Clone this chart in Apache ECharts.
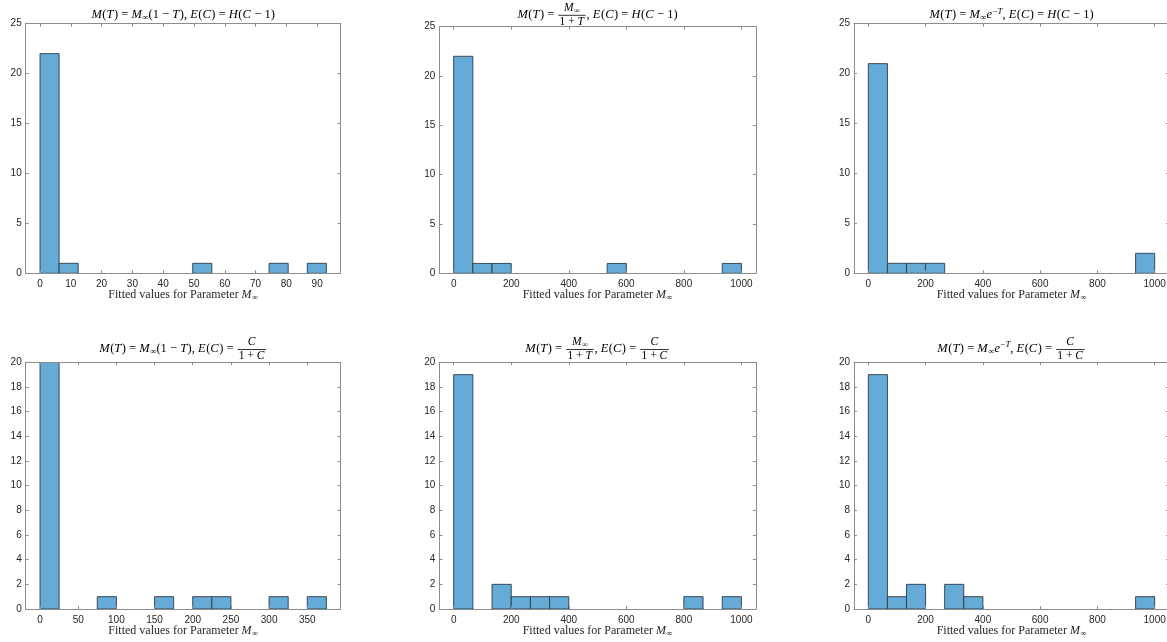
<!DOCTYPE html>
<html><head><meta charset="utf-8">
<script src="https://cdn.jsdelivr.net/npm/echarts@6/dist/echarts.min.js"></script>
<style>html,body{margin:0;padding:0;background:#fff}#c{width:1167px;height:642px}</style>
</head><body><div id="c"></div>
<script>
// ---------------- data ----------------
// histogram counts per bin (15 bins each)
const countsA = [22, 1, 0, 0, 0, 0, 0, 0, 1, 0, 0, 0, 1, 0, 1];
const countsB = [22, 1, 1, 0, 0, 0, 0, 0, 1, 0, 0, 0, 0, 0, 1];
const countsC = [21, 1, 1, 1, 0, 0, 0, 0, 0, 0, 0, 0, 0, 0, 2];
const countsD = [20, 0, 0, 1, 0, 0, 1, 0, 1, 1, 0, 0, 1, 0, 1];
const countsE = [19, 0, 2, 1, 1, 1, 0, 0, 0, 0, 0, 0, 1, 0, 1];
const countsF = [19, 1, 2, 0, 2, 1, 0, 0, 0, 0, 0, 0, 0, 0, 1];
// bin widths
const binWidthA = 6.2;
const binWidthB = 1000 / 15;
const binWidthC = 1000 / 15;
const binWidthD = 25;
const binWidthE = 1000 / 15;
const binWidthF = 1000 / 15;
// x tick labels
const xTicksA = [0, 10, 20, 30, 40, 50, 60, 70, 80, 90];
const xTicksK = [0, 200, 400, 600, 800, 1000];
const xTicksD = [0, 50, 100, 150, 200, 250, 300, 350];
// axis limits
const xLimA = [-4.65, 97.65];
const xLimK = [-50, 1050];
const xLimD = [-18.75, 393.75];
const yMaxTop = 25, yStepTop = 5;
const yMaxBot = 20, yStepBot = 2;

// ---------------- math text helpers ----------------
function m(s) { // math string: letters italic
  const out = []; let cur = '', curIt = null;
  for (const ch of s) {
    const it = /[A-Za-z]/.test(ch);
    if (curIt === null || it === curIt) { cur += ch; curIt = it; }
    else { out.push({k: 'r', s: cur, it: curIt, sc: 1, dy: 0}); cur = ch; curIt = it; }
  }
  if (cur) out.push({k: 'r', s: cur, it: curIt, sc: 1, dy: 0});
  return out;
}
function txt(s) { return [{k: 'r', s, it: false, sc: 1, dy: 0}]; }
function sub(s) { return m(s).map(n => ({...n, sc: 0.7, dy: 0.25})); }
function sup(s) { return m(s).map(n => ({...n, sc: 0.7, dy: -0.3})); }
function frac(a, b) { return [{k: 'f', num: a.flat(), den: b.flat()}]; }

const titleA = [m('M(T) = M'), sub('∞'), m('(1 − T), E(C) = H(C − 1)')].flat();
const titleB = [m('M(T) = '), frac([m('M'), sub('∞')], [m('1 + T')]), m(', E(C) = H(C − 1)')].flat();
const titleC = [m('M(T) = M'), sub('∞'), m('e'), sup('−T'), m(', E(C) = H(C − 1)')].flat();
const titleD = [m('M(T) = M'), sub('∞'), m('(1 − T), E(C) = '), frac([m('C')], [m('1 + C')])].flat();
const titleE = [m('M(T) = '), frac([m('M'), sub('∞')], [m('1 + T')]), m(', E(C) = '), frac([m('C')], [m('1 + C')])].flat();
const titleF = [m('M(T) = M'), sub('∞'), m('e'), sup('−T'), m(', E(C) = '), frac([m('C')], [m('1 + C')])].flat();
const xName = [txt('Fitted values for Parameter '), m('M'), sub('∞')].flat();

const SERIF = '"Liberation Serif", "DejaVu Serif", serif';
const mctx = document.createElement('canvas').getContext('2d');
function fontOf(it, size) { return (it ? 'italic ' : '') + size.toFixed(2) + 'px ' + SERIF; }
function meas(s, f) { mctx.font = f; return mctx.measureText(s).width; }

function layout(nodes, fs) {
  let x = 0; const items = [], bars = [];
  for (const n of nodes) {
    if (n.k === 'r') {
      const f = fontOf(n.it, fs * n.sc);
      items.push({s: n.s, x, dy: n.dy * fs, font: f});
      x += meas(n.s, f) + (n.it && n.sc === 1 ? fs * 0.04 : 0);
    } else {
      const fs2 = fs * 0.92;
      const a = layout(n.num, fs2), b = layout(n.den, fs2);
      const w = Math.max(a.w, b.w) + fs * 0.35;
      const barDy = fs * 0.08;
      a.items.forEach(it => items.push({...it, x: x + (w - a.w) / 2 + it.x, dy: barDy - fs * 0.58 + it.dy}));
      b.items.forEach(it => items.push({...it, x: x + (w - b.w) / 2 + it.x, dy: barDy + fs * 0.5 + it.dy}));
      bars.push({x1: x + fs * 0.08, x2: x + w - fs * 0.08, dy: barDy});
      x += w;
    }
  }
  return {w: x, items, bars};
}
function mathGraphic(nodes, cx, cy, fs, color) {
  const L = layout(nodes, fs); const x0 = cx - L.w / 2; const els = [];
  L.items.forEach(it => els.push({type: 'text', silent: true, z: 100, x: x0 + it.x, y: cy + it.dy,
    style: {text: it.s, font: it.font, fill: color, align: 'left', verticalAlign: 'middle'}}));
  L.bars.forEach(b => els.push({type: 'line', silent: true, z: 100,
    shape: {x1: x0 + b.x1, y1: cy + b.dy, x2: x0 + b.x2, y2: cy + b.dy},
    style: {stroke: color, lineWidth: 0.8}}));
  return els;
}

// ---------------- panels ----------------
const panels = [
  {counts: countsA, bw: binWidthA, xlim: xLimA, ticks: xTicksA, ymax: yMaxTop, ystep: yStepTop, title: titleA, left: 25.7, width: 315, top: 23.7, bottom: 273.3, ty: 15},
  {counts: countsB, bw: binWidthB, xlim: xLimK, ticks: xTicksK, ymax: yMaxTop, ystep: yStepTop, title: titleB, left: 439.3, width: 316.5, top: 26.7, bottom: 273.3, ty: 14.3},
  {counts: countsC, bw: binWidthC, xlim: xLimK, ticks: xTicksK, ymax: yMaxTop, ystep: yStepTop, title: titleC, left: 854, width: 315, top: 23.7, bottom: 273.3, ty: 15},
  {counts: countsD, bw: binWidthD, xlim: xLimD, ticks: xTicksD, ymax: yMaxBot, ystep: yStepBot, title: titleD, left: 25.7, width: 315, top: 362.3, bottom: 609, ty: 348.5},
  {counts: countsE, bw: binWidthE, xlim: xLimK, ticks: xTicksK, ymax: yMaxBot, ystep: yStepBot, title: titleE, left: 439.3, width: 316.5, top: 362.3, bottom: 609, ty: 348.5},
  {counts: countsF, bw: binWidthF, xlim: xLimK, ticks: xTicksK, ymax: yMaxBot, ystep: yStepBot, title: titleF, left: 854, width: 315, top: 362.3, bottom: 609, ty: 348.5}
];

const AXC = '#8c8c8c', LBL = '#262626', SANS = '"Liberation Sans", Arial, sans-serif';
const grid = [], xAxis = [], yAxis = [], series = [], graphic = [];
panels.forEach((p, i) => {
  grid.push({left: p.left, top: p.top, width: p.width, height: p.bottom - p.top, show: false,
    containLabel: false, outerBoundsMode: 'none'});
  const line = {show: true, onZero: false, lineStyle: {color: AXC, width: 1}};
  const tick = (vals) => ({show: true, inside: true, length: 3, customValues: vals, lineStyle: {color: AXC, width: 1}});
  xAxis.push({gridIndex: i, type: 'value', position: 'bottom', min: p.xlim[0], max: p.xlim[1], z: 10,
    axisLine: line, axisTick: tick(p.ticks), splitLine: {show: false},
    axisLabel: {customValues: p.ticks, formatter: v => String(v), color: LBL, fontSize: 10, fontFamily: SANS, margin: 6}});
  xAxis.push({gridIndex: i, type: 'value', position: 'top', min: p.xlim[0], max: p.xlim[1], z: 10,
    axisLine: line, axisTick: tick(p.ticks), splitLine: {show: false}, axisLabel: {show: false}});
  yAxis.push({gridIndex: i, type: 'value', position: 'left', min: 0, max: p.ymax, interval: p.ystep, z: 10,
    axisLine: line, axisTick: {show: true, inside: true, length: 3, lineStyle: {color: AXC}}, splitLine: {show: false},
    axisLabel: {formatter: v => String(v), color: LBL, fontSize: 10, fontFamily: SANS, margin: 4}});
  yAxis.push({gridIndex: i, type: 'value', position: 'right', min: 0, max: p.ymax, interval: p.ystep, z: 10,
    axisLine: line, axisTick: {show: true, inside: true, length: 3, lineStyle: {color: AXC}}, splitLine: {show: false},
    axisLabel: {show: false}});
  const data = [];
  p.counts.forEach((c, k) => { if (c > 0) data.push([k * p.bw, (k + 1) * p.bw, c]); });
  series.push({type: 'custom', xAxisIndex: 2 * i, yAxisIndex: 2 * i, data, encode: {x: [0, 1], y: 2},
    clip: true, silent: true,
    renderItem: (params, api) => {
      const a = api.coord([api.value(0), 0]), b = api.coord([api.value(1), api.value(2)]);
      return {type: 'rect', shape: {x: a[0], y: b[1], width: b[0] - a[0], height: a[1] - b[1]},
        style: {fill: '#66aad7', stroke: '#2b3a46', lineWidth: 0.9}};
    }});
  const cx = p.left + p.width / 2;
  graphic.push(...mathGraphic(p.title, cx, p.ty, 12.5, '#000'));
  graphic.push(...mathGraphic(xName, cx, p.bottom + 21.8, 12, LBL));
});

const chart = echarts.init(document.getElementById('c'), null, {renderer: 'canvas'});
chart.setOption({backgroundColor: '#fff', animation: false, grid, xAxis, yAxis, series, graphic});
</script></body></html>
